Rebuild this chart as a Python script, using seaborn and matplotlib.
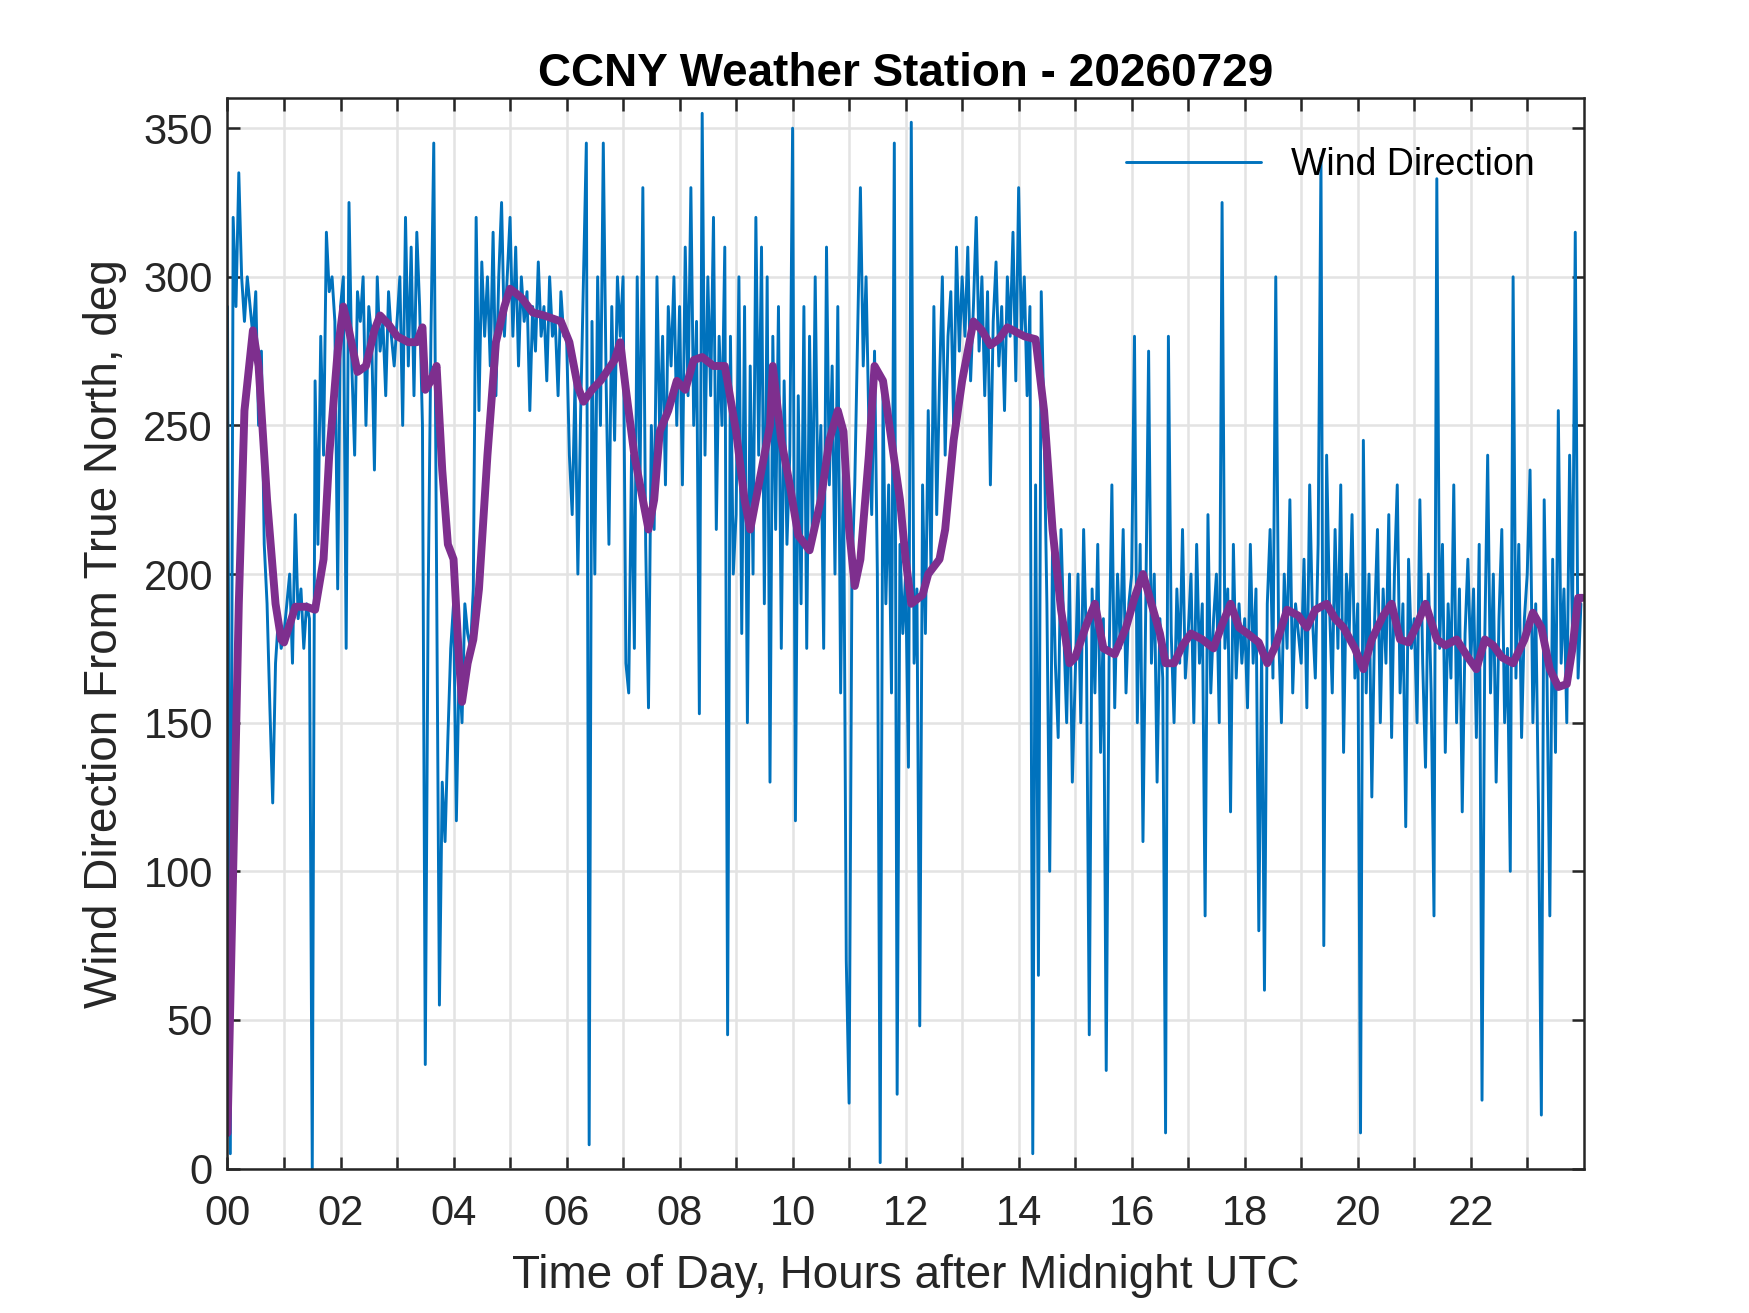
import numpy as np
import pandas as pd
import seaborn as sns
import matplotlib.pyplot as plt
from matplotlib.ticker import FixedLocator

# wind direction samples, one every 3 minutes (20 per hour)
sample_minutes = 3
wind_deg = [
    # 00
    290, 5, 320, 290, 335, 300, 285, 300, 290, 280, 295, 250, 275, 210, 190, 155, 123, 170, 185, 175,
    # 01
    180, 190, 200, 170, 220, 185, 195, 175, 190, 185, 0, 265, 210, 280, 240, 315, 295, 300, 285, 195,
    # 02
    290, 300, 175, 325, 270, 240, 295, 285, 300, 250, 290, 280, 235, 300, 275, 285, 260, 295, 280, 270,
    # 03
    285, 300, 250, 320, 270, 310, 260, 315, 290, 250, 35, 190, 280, 345, 200, 55, 130, 110, 145, 175,
    # 04
    190, 117, 170, 150, 190, 180, 175, 195, 320, 255, 305, 280, 300, 270, 315, 260, 300, 325, 280, 300,
    # 05
    320, 280, 310, 270, 300, 285, 295, 255, 290, 275, 305, 280, 290, 265, 300, 280, 285, 260, 295, 280,
    # 06
    280, 240, 220, 265, 200, 255, 300, 345, 8, 285, 200, 300, 250, 345, 265, 210, 290, 245, 300, 280,
    # 07
    300, 170, 160, 240, 175, 300, 230, 330, 210, 155, 250, 215, 300, 245, 280, 230, 290, 270, 300, 250,
    # 08
    290, 230, 310, 260, 330, 250, 285, 153, 355, 240, 300, 260, 320, 215, 280, 250, 310, 45, 280, 200,
    # 09
    220, 300, 180, 290, 150, 270, 200, 320, 240, 310, 190, 300, 130, 280, 215, 290, 175, 265, 210, 240,
    # 10
    350, 117, 260, 190, 290, 175, 280, 210, 300, 220, 250, 175, 310, 230, 270, 200, 290, 160, 240, 70,
    # 11
    22, 200, 230, 280, 330, 270, 300, 250, 220, 275, 200, 2, 260, 190, 230, 160, 345, 25, 210, 180,
    # 12
    200, 135, 352, 170, 195, 48, 230, 180, 255, 200, 290, 220, 265, 300, 240, 280, 295, 250, 310, 275,
    # 13
    300, 280, 310, 265, 290, 320, 275, 300, 260, 295, 230, 285, 305, 270, 290, 255, 300, 280, 315, 265,
    # 14
    330, 280, 300, 260, 290, 5, 230, 65, 295, 250, 190, 100, 210, 170, 145, 215, 180, 150, 200, 130,
    # 15
    165, 200, 150, 215, 175, 45, 195, 160, 210, 140, 185, 33, 170, 230, 155, 200, 175, 215, 160, 190,
    # 16
    200, 280, 150, 210, 110, 190, 275, 170, 200, 130, 185, 165, 12, 280, 180, 150, 195, 170, 215, 165,
    # 17
    180, 200, 150, 210, 170, 190, 85, 220, 160, 185, 200, 150, 325, 175, 195, 120, 210, 165, 190, 170,
    # 18
    185, 155, 210, 170, 195, 80, 175, 60, 190, 215, 165, 300, 180, 150, 200, 175, 225, 160, 190, 180,
    # 19
    170, 205, 155, 230, 185, 165, 210, 340, 75, 240, 190, 160, 215, 175, 230, 140, 200, 180, 220, 165,
    # 20
    190, 12, 245, 160, 200, 125, 185, 215, 150, 195, 170, 220, 145, 200, 230, 160, 190, 115, 205, 175,
    # 21
    185, 150, 225, 170, 135, 200, 160, 85, 333, 175, 210, 140, 190, 165, 230, 150, 195, 120, 180, 205,
    # 22
    170, 195, 145, 210, 23, 180, 240, 160, 200, 130, 185, 215, 150, 175, 100, 300, 165, 210, 145, 185,
    # 23
    200, 235, 150, 190, 120, 18, 225, 165, 85, 205, 140, 255, 170, 195, 150, 240, 180, 315, 165, 190,
]

# smoothed (running mean) curve
smooth_hours = [
    0.0, 0.1, 0.2, 0.3, 0.45, 0.55, 0.7, 0.85, 0.95, 1.0, 1.1, 1.2, 1.4, 1.55, 1.7, 1.8, 1.95,
    2.05, 2.15, 2.3, 2.45, 2.6, 2.7, 2.85, 3.0, 3.2, 3.35, 3.45, 3.5, 3.6, 3.7, 3.8, 3.9,
    4.0, 4.1, 4.15, 4.25, 4.35, 4.45, 4.6, 4.75, 4.9, 5.0, 5.2, 5.4, 5.6, 5.9,
    6.05, 6.2, 6.3, 6.45, 6.6, 6.85, 6.95, 7.05, 7.2, 7.35, 7.45, 7.55, 7.65, 7.8, 7.95,
    8.1, 8.25, 8.4, 8.6, 8.8, 9.0, 9.15, 9.25, 9.45, 9.6, 9.65, 9.8, 9.95,
    10.1, 10.3, 10.5, 10.65, 10.8, 10.9, 11.0, 11.1, 11.2, 11.35, 11.45, 11.6, 11.75, 11.9,
    12.0, 12.1, 12.3, 12.4, 12.6, 12.7, 12.85, 13.0, 13.2, 13.35, 13.5, 13.65, 13.8,
    14.1, 14.3, 14.45, 14.6, 14.75, 14.9, 15.0, 15.2, 15.35, 15.5, 15.7, 15.9,
    16.05, 16.2, 16.35, 16.5, 16.6, 16.75, 16.9, 17.05, 17.25, 17.45, 17.6, 17.75, 17.9,
    18.05, 18.25, 18.4, 18.55, 18.75, 18.95, 19.1, 19.25, 19.45, 19.6, 19.75, 19.95,
    20.1, 20.25, 20.45, 20.6, 20.75, 20.9, 21.05, 21.2, 21.4, 21.55, 21.75, 21.95,
    22.1, 22.25, 22.4, 22.55, 22.75, 22.95, 23.1, 23.25, 23.4, 23.55, 23.7, 23.8, 23.9, 23.98,
]
smooth_deg = [
    12, 100, 190, 255, 282, 270, 225, 190, 178, 177, 183, 189, 189, 188, 205, 240, 275,
    290, 282, 268, 270, 282, 287, 284, 280, 278, 278, 283, 262, 265, 270, 235, 210,
    205, 170, 157, 170, 178, 195, 240, 278, 290, 296, 293, 288, 287, 285,
    278, 263, 258, 262, 265, 272, 278, 262, 240, 225, 215, 225, 248, 255, 265,
    262, 272, 273, 270, 270, 248, 225, 215, 235, 250, 270, 245, 230,
    213, 208, 225, 245, 255, 248, 215, 196, 205, 240, 270, 265, 245, 225,
    205, 190, 193, 200, 205, 215, 245, 265, 285, 282, 277, 279, 283,
    280, 279, 255, 215, 188, 170, 172, 183, 190, 175, 173, 182,
    192, 200, 190, 180, 170, 170, 176, 180, 178, 175, 183, 190, 182,
    180, 177, 170, 176, 188, 186, 182, 188, 190, 185, 182, 175,
    168, 178, 186, 190, 178, 177, 183, 190, 178, 176, 178, 172,
    168, 178, 176, 172, 170, 178, 187, 182, 168, 162, 163, 175, 192, 192,
]

x_tick_hours = list(range(0, 24))
x_tick_labels = [f"{h:02d}" if h % 2 == 0 else "" for h in x_tick_hours]
y_ticks = list(range(0, 351, 50))

raw = pd.DataFrame({
    "hour": np.arange(len(wind_deg)) * sample_minutes / 60.0,
    "deg": wind_deg,
})
smooth = pd.DataFrame({"hour": smooth_hours, "deg": smooth_deg})

sns.set_style("white")
plt.rcParams["font.family"] = ["Liberation Sans", "DejaVu Sans"]

fig = plt.figure(figsize=(5.8333, 4.3767), dpi=300)
ax = fig.add_axes([0.13, 0.11, 0.775, 0.815])

sns.lineplot(data=raw, x="hour", y="deg", ax=ax, color="#0072BD", linewidth=0.7,
             estimator=None, label="Wind Direction")
sns.lineplot(data=smooth, x="hour", y="deg", ax=ax, color="#7E2F8E", linewidth=1.9,
             estimator=None, legend=False)

ax.set_xlim(0, 24)
ax.set_ylim(0, 360)
ax.xaxis.set_major_locator(FixedLocator(x_tick_hours))
ax.set_xticklabels(x_tick_labels)
ax.set_yticks(y_ticks)

ax.grid(True, color="#e3e3e3", linewidth=0.6)
ax.set_axisbelow(True)
for s in ax.spines.values():
    s.set_color("#262626")
    s.set_linewidth(0.6)
ax.tick_params(direction="in", length=3, width=0.6, colors="#262626",
               labelsize=10, top=True, right=True, bottom=True, left=True)
ax.tick_params(axis="x", pad=6)

ax.set_xlabel("Time of Day, Hours after Midnight UTC", fontsize=11, color="#262626",
              labelpad=5)
ax.set_ylabel("Wind Direction From True North, deg", fontsize=11, color="#262626")
ax.set_title("CCNY Weather Station - 20260729", fontsize=11, fontweight="bold",
             color="black", pad=3)

leg = ax.legend(loc="upper right", frameon=False, fontsize=9, handlelength=3.6,
                borderaxespad=0.9)
for t in leg.get_texts():
    t.set_color("black")

fig.savefig("out.png", dpi=300)
